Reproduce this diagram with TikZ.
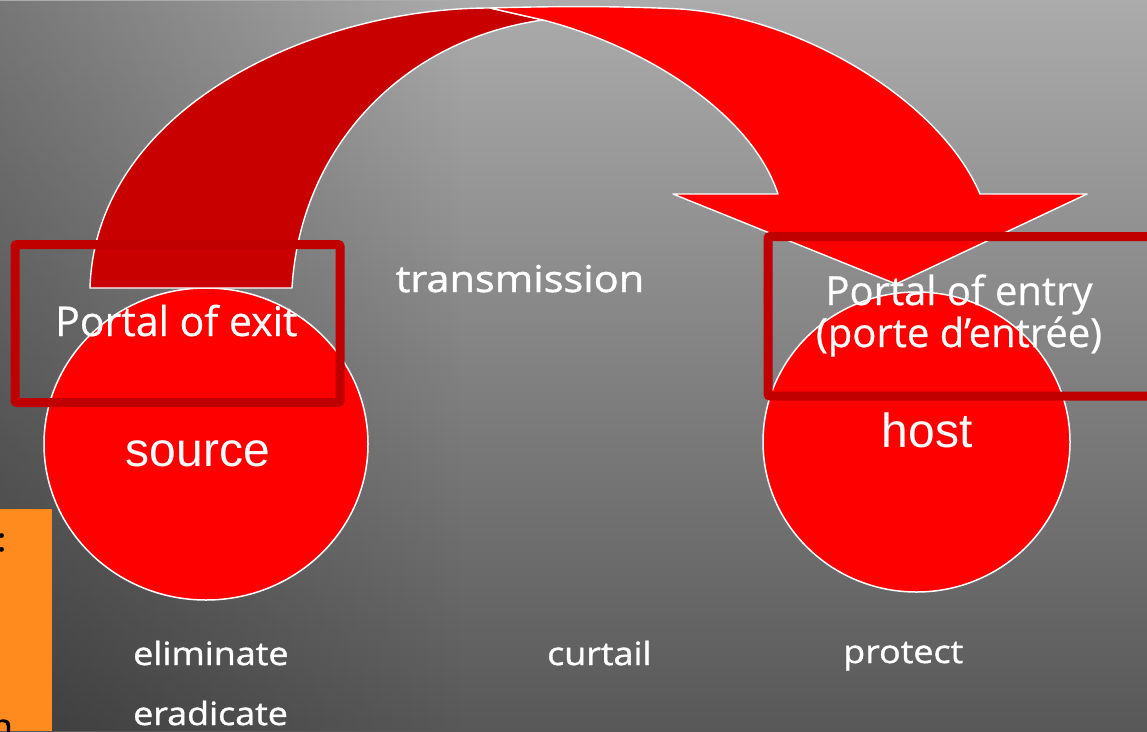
\documentclass[tikz,border=0pt]{standalone}
\usepackage{fontspec}
\usetikzlibrary{fadings}
\newfontfamily\handf[FakeStretch=1.12, FakeBold=1.2]{Open Sans}
\newfontfamily\portalf[FakeBold=0.6]{Open Sans}
\newfontfamily\arialf{Liberation Sans}
\definecolor{bgtop}{HTML}{ABABAB}
\definecolor{bgbot}{HTML}{585858}
\definecolor{tailred}{HTML}{C80000}
\definecolor{headred}{HTML}{FF0000}
\definecolor{framered}{HTML}{C00000}
\definecolor{notebox}{HTML}{FF8A1E}
\tikzset{
  bodydisc/.style={fill=headred, draw=white, line width=1.5pt},
  arrowpart/.style={draw=white, line width=1.4pt, line join=round},
  portalframe/.style={draw=framered, line width=9pt, rounded corners=2pt},
  handtext/.style={text=white, inner sep=0pt, font=\handf\fontsize{32}{38}\selectfont},
  portaltext/.style={text=white, inner sep=0pt},
  bodytext/.style={text=white, inner sep=0pt, font=\arialf\fontsize{48}{54}\selectfont},
}
\begin{document}
\begin{tikzpicture}[x=1pt, y=-1pt]
\useasboundingbox (0,0) rectangle (1147,731);
\clip (0,0) rectangle (1147,731);

% grey backdrop, darker towards the bottom and the left edge
\shade[top color=bgtop, bottom color=bgbot] (0,0) rectangle (1147,731);
\fill[black, opacity=0.3, path fading=east] (0,0) rectangle (460,731);

% side note box, cut by the page edge
\fill[notebox] (0,509) rectangle (52,731);
\node[anchor=base east, inner sep=0pt, font=\handf\fontsize{32}{36}\selectfont] (notecolon) at (6.5,551) {:};
\node[anchor=base east, inner sep=0pt, font=\handf\fontsize{32}{36}\selectfont] (noten) at (13,737) {n};

% source and host
\path[bodydisc] (206,444) ellipse [x radius=162, y radius=156];
\path[bodydisc] (916.5,442) ellipse [x radius=153.5, y radius=150];

% curved transmission arrow: back (tail) part
\path[arrowpart, fill=tailred]
  (90,288) .. controls (95,110) and (310,8) .. (490,8)
  -- (543,20)
  .. controls (400,40) and (300,150) .. (292,288) -- cycle;
% front part with the head
\path[arrowpart, fill=headred]
  (490,8) .. controls (560,6) and (620,6) .. (680,9)
  .. controls (800,17) and (940,100) .. (980,194)
  -- (1087,194) -- (896,284) -- (673,194) -- (778,194)
  .. controls (750,110) and (640,45) .. (543,20) -- cycle;

% portal frames
\draw[portalframe] (15,244.5) rectangle (340,402.5);
\draw[portalframe] (768,236.5) rectangle (1160,396);

% labels
\node[portaltext, anchor=base west, font=\portalf\fontsize{41}{48}\selectfont] (exit) at (55,336) {Portal of exit};
\node[portaltext, anchor=base, font=\portalf\fontsize{40}{46}\selectfont] (entry) at (959,305) {Portal of entry};
\node[portaltext, anchor=base, font=\portalf\fontsize{40}{46}\selectfont] (entryfr) at (959,347) {(porte d’entrée)};
\node[bodytext, anchor=base] (source) at (198,466) {source};
\node[bodytext, anchor=base] (host) at (927,447) {host};

\node[handtext, anchor=base, font=\handf\fontsize{37}{42}\selectfont] (transmission) at (520,292) {transmission};
\node[handtext, anchor=base west] (eliminate) at (133,665) {eliminate};
\node[handtext, anchor=base west] (eradicate) at (133,725) {eradicate};
\node[handtext, anchor=base west] (curtail) at (547,665) {curtail};
\node[handtext, anchor=base west] (protect) at (843,663) {protect};
\end{tikzpicture}
\end{document}
